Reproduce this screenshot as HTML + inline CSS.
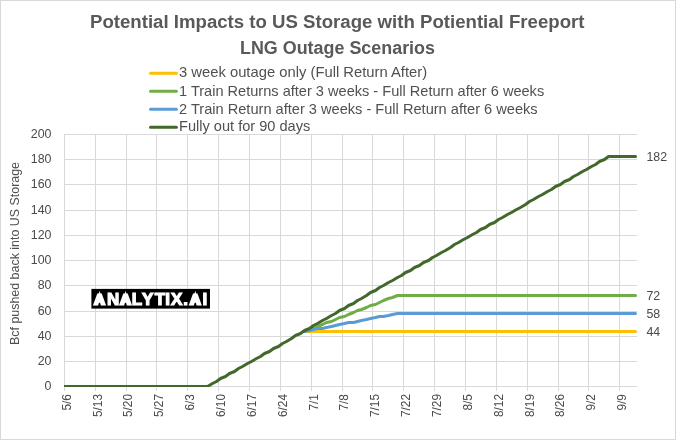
<!DOCTYPE html>
<html lang="en"><head><meta charset="utf-8"><title>Potential Impacts to US Storage with Potiential Freeport LNG Outage Scenarios</title>
<style>html,body{margin:0;padding:0;background:#fff;}body{width:676px;height:440px;overflow:hidden;}svg{display:block;}text{font-family:"Liberation Sans", sans-serif;fill:#505050;}</style></head><body>
<svg width="676" height="440" viewBox="0 0 676 440">
<rect x="0" y="0" width="676" height="440" fill="#ffffff"/>
<rect x="0.5" y="0.5" width="675" height="439" fill="none" stroke="#d9d9d9" stroke-width="1"/>
<g fill="#d9d9d9" shape-rendering="crispEdges">
<rect x="64" y="386" width="573" height="1"/>
<rect x="64" y="361" width="573" height="1"/>
<rect x="64" y="336" width="573" height="1"/>
<rect x="64" y="311" width="573" height="1"/>
<rect x="64" y="285" width="573" height="1"/>
<rect x="64" y="260" width="573" height="1"/>
<rect x="64" y="235" width="573" height="1"/>
<rect x="64" y="210" width="573" height="1"/>
<rect x="64" y="184" width="573" height="1"/>
<rect x="64" y="159" width="573" height="1"/>
<rect x="64" y="134" width="573" height="1"/>
<rect x="64" y="134" width="1" height="257"/>
<rect x="95" y="134" width="1" height="257"/>
<rect x="126" y="134" width="1" height="257"/>
<rect x="156" y="134" width="1" height="257"/>
<rect x="187" y="134" width="1" height="257"/>
<rect x="218" y="134" width="1" height="257"/>
<rect x="249" y="134" width="1" height="257"/>
<rect x="280" y="134" width="1" height="257"/>
<rect x="311" y="134" width="1" height="257"/>
<rect x="342" y="134" width="1" height="257"/>
<rect x="372" y="134" width="1" height="257"/>
<rect x="403" y="134" width="1" height="257"/>
<rect x="434" y="134" width="1" height="257"/>
<rect x="465" y="134" width="1" height="257"/>
<rect x="496" y="134" width="1" height="257"/>
<rect x="527" y="134" width="1" height="257"/>
<rect x="558" y="134" width="1" height="257"/>
<rect x="588" y="134" width="1" height="257"/>
<rect x="619" y="134" width="1" height="257"/>
</g>
<clipPath id="plotclip"><rect x="64" y="120" width="580" height="267"/></clipPath>
<g fill="none" stroke-width="3.00" stroke-linecap="round" stroke-linejoin="round" clip-path="url(#plotclip)">
<path d="M304.50 331.50 L635.50 331.50" stroke="#ffc000"/>
<path d="M304.50 331.50 L309.50 329.50 L313.50 328.50 L317.50 326.50 L322.50 324.50 L326.50 322.50 L331.50 321.50 L335.50 319.50 L339.50 317.50 L344.50 316.50 L348.50 314.50 L353.50 312.50 L357.50 310.50 L361.50 309.50 L366.50 307.50 L370.50 305.50 L375.50 304.50 L379.50 302.50 L383.50 300.50 L388.50 298.50 L392.50 297.50 L397.50 295.50 L401.50 295.50 L405.50 295.50 L410.50 295.50 L414.50 295.50 L419.50 295.50 L423.50 295.50 L428.50 295.50 L432.50 295.50 L436.50 295.50 L441.50 295.50 L445.50 295.50 L450.50 295.50 L454.50 295.50 L458.50 295.50 L463.50 295.50 L467.50 295.50 L472.50 295.50 L476.50 295.50 L480.50 295.50 L485.50 295.50 L489.50 295.50 L494.50 295.50 L498.50 295.50 L502.50 295.50 L507.50 295.50 L511.50 295.50 L516.50 295.50 L520.50 295.50 L525.50 295.50 L529.50 295.50 L533.50 295.50 L538.50 295.50 L542.50 295.50 L547.50 295.50 L551.50 295.50 L555.50 295.50 L560.50 295.50 L564.50 295.50 L569.50 295.50 L573.50 295.50 L577.50 295.50 L582.50 295.50 L586.50 295.50 L591.50 295.50 L595.50 295.50 L599.50 295.50 L604.50 295.50 L608.50 295.50 L613.50 295.50 L617.50 295.50 L621.50 295.50 L626.50 295.50 L630.50 295.50 L635.50 295.50" stroke="#70ad47"/>
<path d="M304.50 331.50 L309.50 330.50 L313.50 329.50 L317.50 328.50 L322.50 328.50 L326.50 327.50 L331.50 326.50 L335.50 325.50 L339.50 324.50 L344.50 323.50 L348.50 322.50 L353.50 322.50 L357.50 321.50 L361.50 320.50 L366.50 319.50 L370.50 318.50 L375.50 317.50 L379.50 316.50 L383.50 316.50 L388.50 315.50 L392.50 314.50 L397.50 313.50 L401.50 313.50 L405.50 313.50 L410.50 313.50 L414.50 313.50 L419.50 313.50 L423.50 313.50 L428.50 313.50 L432.50 313.50 L436.50 313.50 L441.50 313.50 L445.50 313.50 L450.50 313.50 L454.50 313.50 L458.50 313.50 L463.50 313.50 L467.50 313.50 L472.50 313.50 L476.50 313.50 L480.50 313.50 L485.50 313.50 L489.50 313.50 L494.50 313.50 L498.50 313.50 L502.50 313.50 L507.50 313.50 L511.50 313.50 L516.50 313.50 L520.50 313.50 L525.50 313.50 L529.50 313.50 L533.50 313.50 L538.50 313.50 L542.50 313.50 L547.50 313.50 L551.50 313.50 L555.50 313.50 L560.50 313.50 L564.50 313.50 L569.50 313.50 L573.50 313.50 L577.50 313.50 L582.50 313.50 L586.50 313.50 L591.50 313.50 L595.50 313.50 L599.50 313.50 L604.50 313.50 L608.50 313.50 L613.50 313.50 L617.50 313.50 L621.50 313.50 L626.50 313.50 L630.50 313.50 L635.50 313.50" stroke="#5b9bd5"/>
<path d="M64 386.5 H207.7" stroke="#43682b" stroke-linecap="butt"/>
<path d="M207.50 386.50 L212.50 383.50 L216.50 381.50 L220.50 378.50 L225.50 376.50 L229.50 373.50 L234.50 371.50 L238.50 368.50 L242.50 366.50 L247.50 363.50 L251.50 361.50 L256.50 358.50 L260.50 356.50 L264.50 353.50 L269.50 351.50 L273.50 348.50 L278.50 346.50 L282.50 343.50 L286.50 341.50 L291.50 338.50 L295.50 335.50 L300.50 333.50 L304.50 330.50 L309.50 328.50 L313.50 325.50 L317.50 323.50 L322.50 320.50 L326.50 318.50 L331.50 315.50 L335.50 313.50 L339.50 310.50 L344.50 308.50 L348.50 305.50 L353.50 303.50 L357.50 300.50 L361.50 298.50 L366.50 295.50 L370.50 292.50 L375.50 290.50 L379.50 287.50 L383.50 285.50 L388.50 282.50 L392.50 280.50 L397.50 277.50 L401.50 275.50 L405.50 272.50 L410.50 270.50 L414.50 267.50 L419.50 265.50 L423.50 262.50 L428.50 260.50 L432.50 257.50 L436.50 255.50 L441.50 252.50 L445.50 250.50 L450.50 247.50 L454.50 244.50 L458.50 242.50 L463.50 239.50 L467.50 237.50 L472.50 234.50 L476.50 232.50 L480.50 229.50 L485.50 227.50 L489.50 224.50 L494.50 222.50 L498.50 219.50 L502.50 217.50 L507.50 214.50 L511.50 212.50 L516.50 209.50 L520.50 207.50 L525.50 204.50 L529.50 201.50 L533.50 199.50 L538.50 196.50 L542.50 194.50 L547.50 191.50 L551.50 189.50 L555.50 186.50 L560.50 184.50 L564.50 181.50 L569.50 179.50 L573.50 176.50 L577.50 174.50 L582.50 171.50 L586.50 169.50 L591.50 166.50 L595.50 164.50 L599.50 161.50 L604.50 159.50 L608.50 156.50 L613.50 156.50 L617.50 156.50 L621.50 156.50 L626.50 156.50 L630.50 156.50 L635.50 156.50" stroke="#43682b"/>
</g>
<g fill="none" stroke-width="3" stroke-linecap="round">
<path d="M150.5 73.3 H176.4" stroke="#ffc000"/>
<path d="M150.5 91.3 H176.4" stroke="#70ad47"/>
<path d="M150.5 109.3 H176.4" stroke="#5b9bd5"/>
<path d="M150.5 127.3 H176.4" stroke="#43682b"/>
</g>
<text x="90.0" y="28.1" font-size="18.00" textLength="494.5" lengthAdjust="spacingAndGlyphs" font-weight="bold" style="fill:#595959">Potential Impacts to US Storage with Potiential Freeport</text>
<text x="240.0" y="53.6" font-size="18.00" textLength="195.0" lengthAdjust="spacingAndGlyphs" font-weight="bold" style="fill:#595959">LNG Outage Scenarios</text>
<text x="179.0" y="77.0" font-size="14.60" textLength="248.1" lengthAdjust="spacingAndGlyphs">3 week outage only (Full Return After)</text>
<text x="179.0" y="95.5" font-size="14.60" textLength="365.2" lengthAdjust="spacingAndGlyphs">1 Train Returns after 3 weeks - Full Return after 6 weeks</text>
<text x="179.0" y="113.7" font-size="14.60" textLength="358.6" lengthAdjust="spacingAndGlyphs">2 Train Return after 3 weeks - Full Return after 6 weeks</text>
<text x="179.0" y="131.2" font-size="14.60" textLength="131.3" lengthAdjust="spacingAndGlyphs">Fully out for 90 days</text>
<text x="44.6" y="389.9" font-size="12.30" textLength="6.9" lengthAdjust="spacingAndGlyphs" style="fill:#4a4a4a">0</text>
<text x="37.7" y="364.9" font-size="12.30" textLength="13.8" lengthAdjust="spacingAndGlyphs" style="fill:#4a4a4a">20</text>
<text x="37.7" y="339.9" font-size="12.30" textLength="13.8" lengthAdjust="spacingAndGlyphs" style="fill:#4a4a4a">40</text>
<text x="37.7" y="314.9" font-size="12.30" textLength="13.8" lengthAdjust="spacingAndGlyphs" style="fill:#4a4a4a">60</text>
<text x="37.7" y="288.9" font-size="12.30" textLength="13.8" lengthAdjust="spacingAndGlyphs" style="fill:#4a4a4a">80</text>
<text x="30.8" y="263.9" font-size="12.30" textLength="20.7" lengthAdjust="spacingAndGlyphs" style="fill:#4a4a4a">100</text>
<text x="30.8" y="238.9" font-size="12.30" textLength="20.7" lengthAdjust="spacingAndGlyphs" style="fill:#4a4a4a">120</text>
<text x="30.8" y="213.9" font-size="12.30" textLength="20.7" lengthAdjust="spacingAndGlyphs" style="fill:#4a4a4a">140</text>
<text x="30.8" y="188.3" font-size="12.30" textLength="20.7" lengthAdjust="spacingAndGlyphs" style="fill:#4a4a4a">160</text>
<text x="30.8" y="162.9" font-size="12.30" textLength="20.7" lengthAdjust="spacingAndGlyphs" style="fill:#4a4a4a">180</text>
<text x="30.8" y="137.9" font-size="12.30" textLength="20.7" lengthAdjust="spacingAndGlyphs" style="fill:#4a4a4a">200</text>
<text x="646.4" y="160.9" font-size="12.30" textLength="20.7" lengthAdjust="spacingAndGlyphs" style="fill:#4a4a4a">182</text>
<text x="646.4" y="299.9" font-size="12.30" textLength="13.8" lengthAdjust="spacingAndGlyphs" style="fill:#4a4a4a">72</text>
<text x="646.4" y="317.9" font-size="12.30" textLength="13.8" lengthAdjust="spacingAndGlyphs" style="fill:#4a4a4a">58</text>
<text x="646.4" y="335.9" font-size="12.30" textLength="13.8" lengthAdjust="spacingAndGlyphs" style="fill:#4a4a4a">44</text>
<text transform="translate(70.7 394) rotate(-90)" x="-16.6" y="0" font-size="12.3" textLength="16.6" lengthAdjust="spacingAndGlyphs" style="fill:#4a4a4a">5/6</text>
<text transform="translate(101.6 394) rotate(-90)" x="-23.0" y="0" font-size="12.3" textLength="23.0" lengthAdjust="spacingAndGlyphs" style="fill:#4a4a4a">5/13</text>
<text transform="translate(132.4 394) rotate(-90)" x="-23.0" y="0" font-size="12.3" textLength="23.0" lengthAdjust="spacingAndGlyphs" style="fill:#4a4a4a">5/20</text>
<text transform="translate(163.3 394) rotate(-90)" x="-23.0" y="0" font-size="12.3" textLength="23.0" lengthAdjust="spacingAndGlyphs" style="fill:#4a4a4a">5/27</text>
<text transform="translate(194.1 394) rotate(-90)" x="-16.6" y="0" font-size="12.3" textLength="16.6" lengthAdjust="spacingAndGlyphs" style="fill:#4a4a4a">6/3</text>
<text transform="translate(225.0 394) rotate(-90)" x="-23.0" y="0" font-size="12.3" textLength="23.0" lengthAdjust="spacingAndGlyphs" style="fill:#4a4a4a">6/10</text>
<text transform="translate(255.8 394) rotate(-90)" x="-23.0" y="0" font-size="12.3" textLength="23.0" lengthAdjust="spacingAndGlyphs" style="fill:#4a4a4a">6/17</text>
<text transform="translate(286.7 394) rotate(-90)" x="-23.0" y="0" font-size="12.3" textLength="23.0" lengthAdjust="spacingAndGlyphs" style="fill:#4a4a4a">6/24</text>
<text transform="translate(317.5 394) rotate(-90)" x="-16.6" y="0" font-size="12.3" textLength="16.6" lengthAdjust="spacingAndGlyphs" style="fill:#4a4a4a">7/1</text>
<text transform="translate(348.4 394) rotate(-90)" x="-16.6" y="0" font-size="12.3" textLength="16.6" lengthAdjust="spacingAndGlyphs" style="fill:#4a4a4a">7/8</text>
<text transform="translate(379.2 394) rotate(-90)" x="-23.0" y="0" font-size="12.3" textLength="23.0" lengthAdjust="spacingAndGlyphs" style="fill:#4a4a4a">7/15</text>
<text transform="translate(410.1 394) rotate(-90)" x="-23.0" y="0" font-size="12.3" textLength="23.0" lengthAdjust="spacingAndGlyphs" style="fill:#4a4a4a">7/22</text>
<text transform="translate(440.9 394) rotate(-90)" x="-23.0" y="0" font-size="12.3" textLength="23.0" lengthAdjust="spacingAndGlyphs" style="fill:#4a4a4a">7/29</text>
<text transform="translate(471.8 394) rotate(-90)" x="-16.6" y="0" font-size="12.3" textLength="16.6" lengthAdjust="spacingAndGlyphs" style="fill:#4a4a4a">8/5</text>
<text transform="translate(502.7 394) rotate(-90)" x="-23.0" y="0" font-size="12.3" textLength="23.0" lengthAdjust="spacingAndGlyphs" style="fill:#4a4a4a">8/12</text>
<text transform="translate(533.5 394) rotate(-90)" x="-23.0" y="0" font-size="12.3" textLength="23.0" lengthAdjust="spacingAndGlyphs" style="fill:#4a4a4a">8/19</text>
<text transform="translate(564.4 394) rotate(-90)" x="-23.0" y="0" font-size="12.3" textLength="23.0" lengthAdjust="spacingAndGlyphs" style="fill:#4a4a4a">8/26</text>
<text transform="translate(595.2 394) rotate(-90)" x="-16.6" y="0" font-size="12.3" textLength="16.6" lengthAdjust="spacingAndGlyphs" style="fill:#4a4a4a">9/2</text>
<text transform="translate(626.1 394) rotate(-90)" x="-16.6" y="0" font-size="12.3" textLength="16.6" lengthAdjust="spacingAndGlyphs" style="fill:#4a4a4a">9/9</text>
<text transform="translate(19.3 345) rotate(-90)" x="0" y="0" font-size="12.8" textLength="183" lengthAdjust="spacingAndGlyphs">Bcf pushed back into US Storage</text>
<rect x="91.4" y="288.9" width="118.6" height="19.7" fill="#000"/>
<text aria-label="ANALYTIX.AI" x="94.85 106.95 120.70 131.72 141.99 154.72 165.26 170.89 183.31 190.50 202.61" y="304.40 305.20 304.40 305.20 305.20 305.20 305.20 305.20 305.20 304.40 305.20" font-size="17.0" font-weight="bold" style="fill:#fff;stroke:#fff" stroke-linejoin="miter" stroke-width="1.2"><tspan font-size="13.2" stroke-width="3" stroke-linejoin="miter">A</tspan>N<tspan font-size="13.2" stroke-width="3" stroke-linejoin="miter">A</tspan>LYTIX.<tspan font-size="13.2" stroke-width="3" stroke-linejoin="miter">A</tspan>I</text>
</svg></body></html>
